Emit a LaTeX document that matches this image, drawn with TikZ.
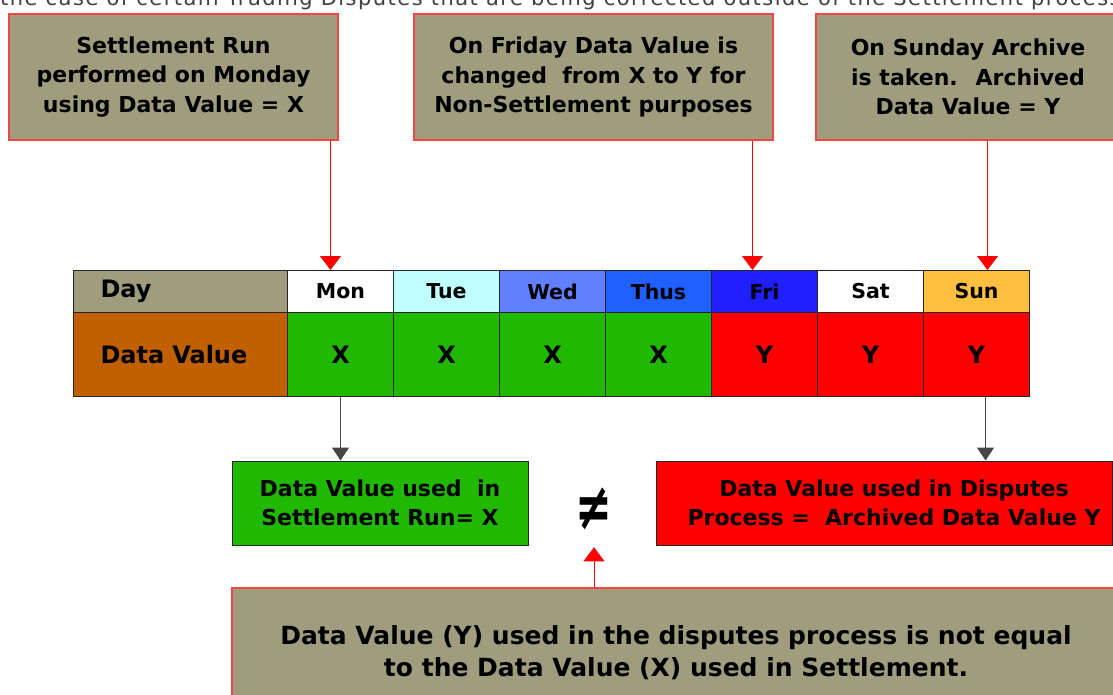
\documentclass[tikz,border=0pt]{standalone}
\usepackage{fontspec}
\setmainfont{DejaVu Sans}
\usetikzlibrary{arrows.meta,calc}

\definecolor{olivegrey}{RGB}{159,157,126}
\definecolor{notered}{RGB}{240,70,70}
\definecolor{labelbrown}{RGB}{192,96,0}
\definecolor{tuecol}{RGB}{192,255,255}
\definecolor{wedcol}{RGB}{96,128,255}
\definecolor{thucol}{RGB}{32,96,255}
\definecolor{fricol}{RGB}{32,32,255}
\definecolor{suncol}{RGB}{255,192,64}
\definecolor{xgreen}{RGB}{32,184,0}
\definecolor{yred}{RGB}{255,0,0}
\definecolor{linegrey}{RGB}{70,70,70}

\tikzset{
  note/.style={draw=notered, line width=1.2pt, fill=olivegrey, inner sep=0pt,
    align=center, font=\fontsize{22}{29.5}\selectfont\bfseries},
  hcell/.style={draw=black!85, line width=1pt, inner sep=0pt, anchor=north west,
    minimum width=106pt, minimum height=42pt, font=\fontsize{20.5}{24}\selectfont\bfseries},
  vcell/.style={draw=black!85, line width=1pt, inner sep=0pt, anchor=north west,
    minimum width=106pt, minimum height=84pt, font=\fontsize{24}{28}\selectfont\bfseries},
  rowlabel/.style={draw=black!85, line width=1pt, inner ysep=0pt, inner xsep=27pt,
    anchor=north west, text width=160pt, align=left, font=\fontsize{24}{28}\selectfont\bfseries},
  result/.style={draw=black!85, line width=1pt, inner sep=0pt, align=center,
    font=\fontsize{22}{29}\selectfont\bfseries},
  redarrow/.style={draw=yred!85, line width=1pt, -{Triangle[length=14pt,width=21pt]}, color=yred},
  blackarrow/.style={draw=linegrey, line width=1.3pt, -{Triangle[length=13pt,width=17pt]}, color=linegrey},
}

\begin{document}
\begin{tikzpicture}[x=1pt,y=-1pt]
  \useasboundingbox (0,0) rectangle (1113,695);
  \fill[white] (0,0) rectangle (1113,695);
  \clip (0,0) rectangle (1113,695);

  % running caption line at the top edge
  \node[anchor=base west, inner sep=0pt, text=black!75,
        font=\fontsize{21}{24}\selectfont\addfontfeature{LetterSpace=7}]
    (caption) at (0,6) {the case of certain Trading Disputes that are being corrected outside of the Settlement process};

  % notes above the week
  \node[note, minimum width=329pt, minimum height=126pt] (n1) at (173.5,77)
    {Settlement Run\\performed on Monday\\using Data Value = X};
  \node[note, minimum width=359pt, minimum height=126pt] (n2) at (593.5,77)
    {On Friday Data Value is\\changed \ from X to Y for\\Non-Settlement purposes};
  \node[note, minimum width=304pt, minimum height=126pt] (n3) at (968,77)
    {On Sunday Archive\\is taken. \ Archived\\Data Value = Y};

  % week table
  \node[rowlabel, fill=olivegrey, minimum height=42pt] (hday) at (73,270) {Day};
  \node[rowlabel, fill=labelbrown, minimum height=84pt] (vlabel) at (73,312) {Data Value};
  \foreach \n/\t/\c [count=\i from 0] in {mon/Mon/white, tue/Tue/tuecol, wed/Wed/wedcol,
      thu/Thus/thucol, fri/Fri/fricol, sat/Sat/white, sun/Sun/suncol}
    \node[hcell, fill=\c] (h\n) at (287+106*\i,270) {\t};
  \foreach \n/\t/\c [count=\i from 0] in {mon/X/xgreen, tue/X/xgreen, wed/X/xgreen,
      thu/X/xgreen, fri/Y/yred, sat/Y/yred, sun/Y/yred}
    \node[vcell, fill=\c] (v\n) at (287+106*\i,312) {\t};

  % result boxes
  \node[result, fill=xgreen, minimum width=296pt, minimum height=84pt] (gbox) at (380,503)
    {Data Value used \ in\\Settlement Run= X};
  \node[result, fill=yred, minimum width=456pt, minimum height=84pt] (rbox) at (884,503)
    {\hspace*{20pt}Data Value used in Disputes\\\hspace*{20pt}Process = \ Archived Data Value Y};

  % not-equal sign between the results
  \node[inner sep=0pt, font=\fontsize{44}{44}\selectfont\bfseries, yscale=1.5] (neq) at (594,509) {≠};

  % conclusion
  \node[note, minimum width=888pt, minimum height=130pt, font=\fontsize{25}{32}\selectfont\bfseries]
    (bot) at (676,653) {Data Value (Y) used in the disputes process is not equal\\to the Data Value (X) used in Settlement.};

  % connectors
  \draw[redarrow] ([xshift=-10pt]hmon.north |- n1.south) -- ([xshift=-10pt]hmon.north);
  \draw[redarrow] ([xshift=-12pt]hfri.north |- n2.south) -- ([xshift=-12pt]hfri.north);
  \draw[redarrow] ([xshift=11pt]hsun.north |- n3.south) -- ([xshift=11pt]hsun.north);
  \draw[blackarrow] (vmon.south) -- (vmon.south |- gbox.north);
  \draw[blackarrow] ([xshift=9pt]vsun.south) -- ([xshift=9pt]vsun.south |- rbox.north);
  \draw[redarrow] (neq |- bot.north) -- ([yshift=-17pt]neq.south);
\end{tikzpicture}
\end{document}
